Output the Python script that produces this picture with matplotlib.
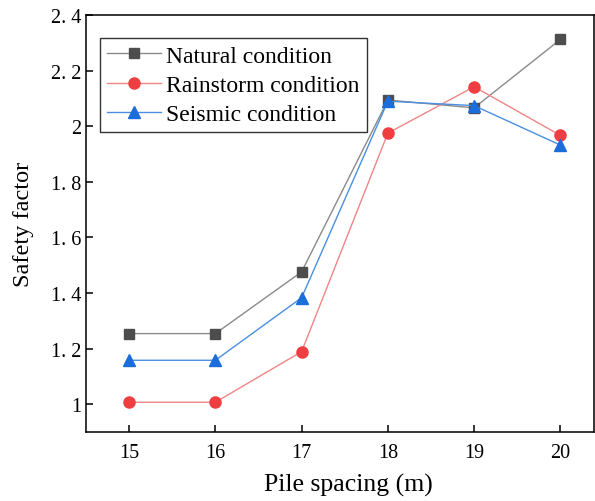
import matplotlib
matplotlib.use("Agg")
import matplotlib.pyplot as plt

spacing = [15, 16, 17, 18, 19, 20]
natural = [1.254, 1.254, 1.476, 2.094, 2.066, 2.312]
rainstorm = [1.007, 1.007, 1.189, 1.975, 2.142, 1.967]
seismic = [1.158, 1.158, 1.383, 2.090, 2.074, 1.932]
yticks = [1, 1.2, 1.4, 1.6, 1.8, 2, 2.2, 2.4]
ytick_labels = ['1', '1. 2', '1. 4', '1. 6', '1. 8', '2', '2. 2', '2. 4']

plt.rcParams['font.family'] = ['Liberation Serif', 'DejaVu Serif']

fig = plt.figure(figsize=(5.95, 5.02), dpi=100)
ax = fig.add_axes([86/595, 1-433/502, 508/595, 417/502])

ax.plot(spacing, natural, color='#8a8a8a', lw=1, marker='s', ms=7,
        mfc='#4d4d4d', mec='#4d4d4d', label='Natural condition')
ax.plot(spacing, rainstorm, color='#f08585', lw=1, marker='o', ms=8,
        mfc='#ef3e42', mec='#ef3e42', label='Rainstorm condition')
ax.plot(spacing, seismic, color='#4a8fe0', lw=1, marker='^', ms=8.5,
        mfc='#1a6ddb', mec='#1a6ddb', label='Seismic condition')

ax.set_xlim(14.5, 20.39)
ax.set_ylim(0.9, 2.4)
ax.set_xticks(spacing)
ax.set_yticks(yticks)
ax.set_yticklabels(ytick_labels)
ax.tick_params(direction='in', length=5, width=1.1, labelsize=14.5)
ax.tick_params(axis='x', pad=8)
for s in ax.spines.values():
    s.set_linewidth(1.1)

ax.set_xlabel('Pile spacing (m)', fontsize=18.5)
ax.xaxis.set_label_coords(0.516, -0.097)
ax.set_ylabel('Safety factor', fontsize=17.5, labelpad=12)

leg = ax.legend(loc='upper left', bbox_to_anchor=(100/595, 1-39/502),
                bbox_transform=fig.transFigure, fontsize=17, frameon=True,
                fancybox=False, edgecolor='black', handlelength=2.3,
                handletextpad=0.2, labelspacing=0.33, borderpad=0.3,
                borderaxespad=0)
leg.get_frame().set_linewidth(1)

fig.savefig('out.png', dpi=100)
